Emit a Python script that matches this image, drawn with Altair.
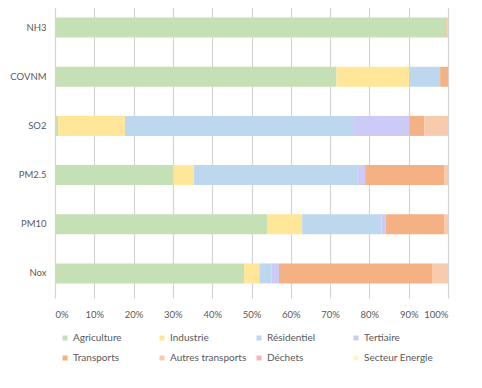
import altair as alt
import pandas as pd

categories = ["NH3", "COVNM", "SO2", "PM2.5", "PM10", "Nox"]
sectors = ["Agriculture", "Industrie", "Résidentiel", "Tertiaire",
           "Transports", "Autres transports", "Déchets", "Secteur Energie"]
colors = ["#c5e0b4", "#ffe699", "#bdd7ee", "#cccbf8",
          "#f4b183", "#f8cbad", "#f4b6b6", "#fff2cc"]

# shares (%) per sector, aligned with categories
agriculture       = [99.6, 71.6,  0.8, 30.1, 54.1, 48.1]
industrie         = [ 0.0, 18.5, 17.0,  5.3,  8.8,  3.9]
residentiel       = [ 0.0,  7.9, 58.3, 41.5, 20.2,  3.1]
tertiaire         = [ 0.0,  0.0, 14.1,  2.0,  1.0,  1.9]
transports        = [ 0.2,  2.0,  3.8, 20.1, 14.9, 39.1]
autres_transports = [ 0.2,  0.0,  6.0,  1.0,  1.0,  3.9]
dechets           = [ 0.0,  0.0,  0.0,  0.0,  0.0,  0.0]
secteur_energie   = [ 0.0,  0.0,  0.0,  0.0,  0.0,  0.0]

series = [agriculture, industrie, residentiel, tertiaire,
          transports, autres_transports, dechets, secteur_energie]

rows = []
for si, (s, vals) in enumerate(zip(sectors, series)):
    for c, v in zip(categories, vals):
        rows.append({"Polluant": c, "Secteur": s, "Part": v / 100.0, "ordre": si})
df = pd.DataFrame(rows)

FONT = "Lato"
GREY = "#595959"

chart = alt.Chart(df).mark_bar(size=20).encode(
    y=alt.Y("Polluant:N", sort=categories, title=None,
            scale=alt.Scale(paddingInner=0.6, paddingOuter=0.3),
            axis=alt.Axis(ticks=False, domain=False, labelPadding=9,
                          labelFont=FONT, labelFontSize=9.5, labelColor=GREY)),
    x=alt.X("Part:Q", stack="zero", title=None,
            scale=alt.Scale(domain=[0, 1], nice=False),
            axis=alt.Axis(format=".0%", values=[i / 10 for i in range(11)],
                          ticks=False, domain=False, grid=True,
                          gridColor="#d4d4d4", gridWidth=1.2,
                          labelPadding=11, labelFont=FONT, labelFontSize=9.5,
                          labelColor=GREY)),
    color=alt.Color("Secteur:N", sort=sectors,
                    scale=alt.Scale(domain=sectors, range=colors),
                    legend=alt.Legend(title=None, orient="none", legendX=5, legendY=330,
                                      columns=4, direction="horizontal",
                                      symbolType="square", symbolSize=25,
                                      symbolStrokeWidth=0, labelOffset=3,
                                      labelFont=FONT, labelFontSize=10,
                                      labelColor=GREY, gridAlign="all",
                                      columnPadding=7, rowPadding=10,
                                      padding=0, labelLimit=200)),
    order=alt.Order("ordre:Q", sort="ascending"),
).properties(
    width=393, height=295,
    autosize=alt.AutoSizeParams(type="none"),
    padding={"left": 47, "top": -5, "right": 26, "bottom": 80},
).configure_view(stroke=None)

chart.save("out.html", embed_options={"renderer": "svg", "actions": False})
